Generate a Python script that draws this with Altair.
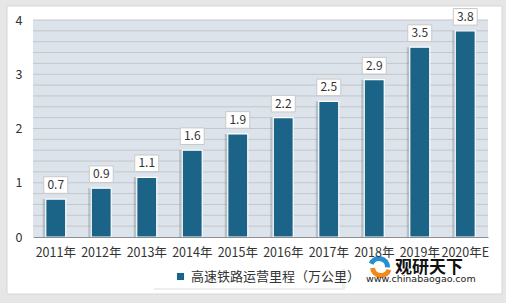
import altair as alt
import pandas as pd

years = ["2011年", "2012年", "2013年", "2014年", "2015年", "2016年", "2017年", "2018年", "2019年", "2020年E"]
values = [0.7, 0.9, 1.1, 1.6, 1.9, 2.2, 2.5, 2.9, 3.5, 3.8]
series = "高速铁路运营里程（万公里）"
grid_values = [round(i * 0.2, 1) for i in range(1, 21)]

df = pd.DataFrame({"year": years, "value": values, "series": [series] * len(years)})
gdf = pd.DataFrame({"g": grid_values})

W, H = 455, 217
FONT = "Noto Sans CJK SC"
BAR = "#1b6487"

xenc = alt.X("year:N", sort=years, title=None,
             scale=alt.Scale(paddingInner=0.56, paddingOuter=0.28),
             axis=alt.Axis(labelAngle=0, labelFontSize=12.5, labelColor="#333333", labelFont=FONT,
                           ticks=False, domainColor="#8a8f94", domainWidth=1, labelPadding=9, zindex=1))
yscale = alt.Scale(domain=[0, 4], nice=False)
yaxis = alt.Axis(values=[0, 1, 2, 3, 4], grid=False, domain=False, ticks=False,
                 labelFontSize=12.5, labelColor="#333333", labelFont=FONT, labelPadding=11, zindex=1)
yenc = alt.Y("value:Q", title=None, scale=yscale, axis=yaxis)

frame_df = pd.DataFrame({"k": [0]})
frame = alt.Chart(frame_df).mark_rect(fill="white", stroke="#d6d6d6", strokeWidth=1).encode(
    x=alt.value(-26), x2=alt.value(469), y=alt.value(-14), y2=alt.value(274))
plotbg = alt.Chart(frame_df).mark_rect(fill="#dde3ea").encode(
    x=alt.value(0), x2=alt.value(W), y=alt.value(0), y2=alt.value(H))
legshadow = alt.Chart(frame_df).mark_rect(fill="#eeeeee").encode(
    x=alt.value(121), x2=alt.value(312), y=alt.value(249), y2=alt.value(270))
legbox = alt.Chart(frame_df).mark_rect(fill="white").encode(
    x=alt.value(120), x2=alt.value(309), y=alt.value(248), y2=alt.value(268))

grid = alt.Chart(gdf).mark_rule(color="#c2c7cc", strokeWidth=1).encode(
    y=alt.Y("g:Q", title=None, scale=yscale, axis=yaxis))

shadow = alt.Chart(df).mark_bar(color="#6d7a85", opacity=0.35, xOffset=-3, size=20).encode(
    x=xenc, y=yenc)

bars = alt.Chart(df).mark_bar(stroke="white", strokeWidth=1.2, size=20).encode(
    x=xenc, y=yenc,
    color=alt.Color("series:N", scale=alt.Scale(domain=[series], range=[BAR]),
                    legend=alt.Legend(title=None, orient="none", legendX=141, legendY=250,
                                      direction="horizontal", symbolType="square", symbolSize=50,
                                      labelFontSize=13, labelFont=FONT, labelColor="#333333",
                                      padding=0, labelLimit=300, symbolStrokeWidth=0)))

rect_path = "M-1.3,-0.9L1.3,-0.9L1.3,0.9L-1.3,0.9Z"
boxes = alt.Chart(df).mark_point(shape=rect_path, filled=True, fill="white", stroke="#c8c8c8",
                                 strokeWidth=1, opacity=1, size=340, yOffset=-14).encode(
    x=xenc, y=yenc)
labels = alt.Chart(df).mark_text(fontSize=12, color="#333333", font=FONT, yOffset=-14).encode(
    x=xenc, y=yenc, text=alt.Text("value:Q", format=".1f"))

wm1 = alt.Chart(frame_df).mark_text(text="观研天下", fontSize=17, fontWeight="bold", color="#111111",
                                    font=FONT, align="left", baseline="middle").encode(
    x=alt.value(362), y=alt.value(248))
wm2 = alt.Chart(frame_df).mark_text(text="www.chinabaogao.com", fontSize=9.5, color="#222222",
                                    font="DejaVu Sans", align="left", baseline="middle").encode(
    x=alt.value(333), y=alt.value(259))
logo1 = alt.Chart(frame_df).mark_arc(color="#2a8fd0", innerRadius=6, outerRadius=11,
                                     theta=5.1, theta2=7.9).encode(x=alt.value(346), y=alt.value(247))
logo2 = alt.Chart(frame_df).mark_arc(color="#f08a1c", innerRadius=6, outerRadius=11,
                                     theta=1.9, theta2=4.6).encode(x=alt.value(348), y=alt.value(247))

chart = alt.layer(frame, plotbg, legshadow, legbox, grid, shadow, bars, boxes, labels,
                  logo1, logo2, wm1, wm2).properties(
    width=W, height=H,
    autosize=alt.AutoSizeParams(type="none"),
    padding={"left": 33, "top": 20, "right": 18, "bottom": 66},
    background="#e6e6e6",
).configure_view(stroke=None)

chart.save("out.html", embed_options={"renderer": "svg", "actions": False})
